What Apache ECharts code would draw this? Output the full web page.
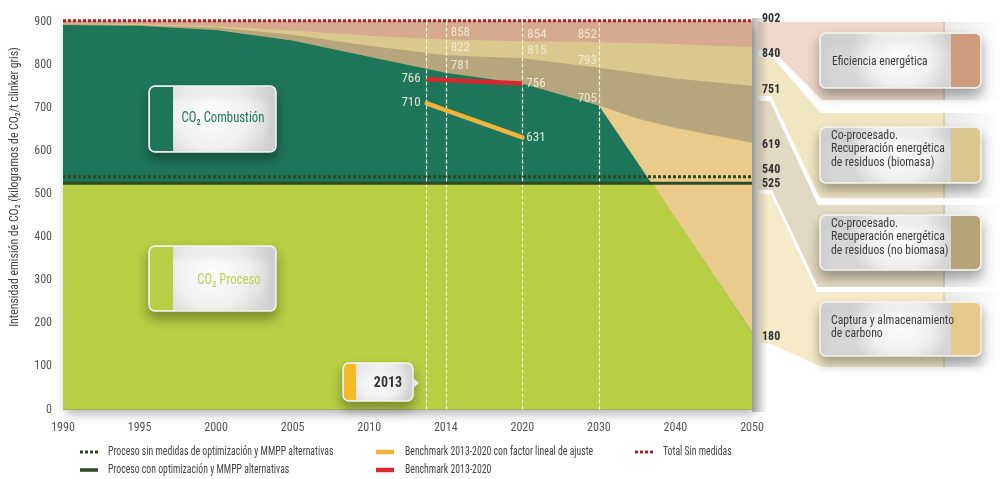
<!DOCTYPE html>
<html>
<head>
<meta charset="utf-8">
<script src="https://cdn.jsdelivr.net/npm/echarts@6/dist/echarts.min.js"></script>
<style>
  html, body { margin: 0; padding: 0; background: #ffffff; }
  #chart { width: 1001px; height: 479px; }
</style>
</head>
<body>
<div id="chart"></div>
<script>
// ---- data ----------------------------------------------------------------
// Axis ticks (the time axis is stretched: each tick gets the same width)
const tickYears = [1990, 1995, 2000, 2005, 2010, 2014, 2020, 2030, 2040, 2050];

// Upper edge of every band, kg CO2 / t clinker gris
const totalSinMedidas   = [[1990, 902], [2050, 902]];
const eficienciaBase    = [[1990, 895], [1995, 894], [2000, 889], [2005, 879], [2010, 867], [2014, 858], [2020, 854], [2030, 852], [2040, 848], [2050, 840]];
const biomasaBase       = [[1990, 894], [1995, 892], [2000, 886], [2005, 869], [2010, 844], [2014, 822], [2020, 815], [2030, 793], [2040, 768], [2050, 751]];
const noBiomasaBase     = [[1990, 892], [1995, 890], [2000, 880], [2005, 856], [2010, 818], [2014, 781], [2020, 756], [2030, 705], [2035, 675], [2040, 653], [2050, 619]];
const combustionTop     = [[1990, 892], [1995, 890], [2000, 880], [2005, 856], [2010, 818], [2014, 781], [2020, 756], [2030, 705], [2050, 180]];
const procesoTop        = [[1990, 525], [2037, 525], [2050, 180]];
const procesoSinMedidas = [[1990, 540], [2050, 540]];
const procesoConOpt     = [[1990, 525], [2050, 525]];
const benchmark         = [[2013, 766], [2020, 756]];
const benchmarkAjuste   = [[2013, 710], [2020, 631]];
const guideYears        = [2013, 2014, 2020, 2030];

// ---- helpers -------------------------------------------------------------
const FONT = '"Liberation Sans Narrow", "Roboto Condensed", "DejaVu Sans Condensed", "Open Sans", sans-serif';

// position of a year on the stretched axis (tick index, fractional between ticks)
function yearPos(yr) {
  for (let i = 0; i < tickYears.length - 1; i++) {
    if (yr <= tickYears[i + 1]) {
      return i + (yr - tickYears[i]) / (tickYears[i + 1] - tickYears[i]);
    }
  }
  return tickYears.length - 1;
}

const inRight = { position: 'right', distance: 5, offset: [0, -7], color: 'rgba(246,240,222,0.85)', fontSize: 13, fontFamily: FONT };
const inLeft  = { position: 'left',  distance: 2, offset: [0, -7], color: 'rgba(246,240,222,0.85)', fontSize: 13, fontFamily: FONT };
const bmLeft  = { position: 'left',  distance: 6, offset: [0, -1], color: 'rgba(246,240,222,0.92)', fontSize: 13, fontFamily: FONT };
const bmRight = { position: 'right', distance: 4, offset: [0, 0],  color: 'rgba(246,240,222,0.92)', fontSize: 13, fontFamily: FONT };
function outLbl(dy) {
  return { position: 'right', distance: 10, offset: [0, dy], color: '#333', fontSize: 12, fontWeight: 'bold', fontFamily: FONT };
}

function pts(arr, labels) {
  return arr.map(([yr, v]) => {
    const item = { value: [yearPos(yr), v] };
    if (labels && labels[yr]) {
      item.label = Object.assign({ show: true, formatter: (p) => String(p.value[1]) }, labels[yr]);
    }
    return item;
  });
}

function band(name, data, color, labels, z) {
  return {
    name, type: 'line', data: pts(data, labels),
    symbol: 'circle', symbolSize: 0, showSymbol: true,
    lineStyle: { width: 0 }, itemStyle: { color },
    areaStyle: { color, opacity: 1 },
    label: { show: false }, clip: false, silent: true,
    z: z, animation: false
  };
}

function lineSeries(name, data, style, labels, z) {
  return {
    name, type: 'line', data: pts(data, labels),
    symbol: 'circle', symbolSize: 0, showSymbol: true,
    lineStyle: style, itemStyle: { color: style.color },
    label: { show: false }, clip: false, silent: true,
    z: z, animation: false
  };
}

// ---- callout boxes -------------------------------------------------------
const boxFill = {
  type: 'radial', x: 0.5, y: 0.4, r: 0.9,
  colorStops: [{ offset: 0, color: '#fdfdfd' }, { offset: 0.6, color: '#f0f0f0' }, { offset: 1, color: '#d6d6d6' }]
};

function tagBox(x, y, w, h, swatchColor, swatchW, swatchLeft, text, textOpt) {
  return [
    { type: 'rect', shape: { x, y, width: w, height: h, r: 6 },
      style: { fill: boxFill, stroke: '#f6f6f0', lineWidth: 1.5,
               shadowBlur: 12, shadowOffsetX: 0, shadowOffsetY: 7, shadowColor: 'rgba(0,0,0,0.33)' }, z: 20 },
    { type: 'rect',
      shape: swatchLeft ? { x: x + 1, y: y + 1, width: swatchW, height: h - 2, r: [5, 0, 0, 5] }
                        : { x: x + w - swatchW - 1, y: y + 1, width: swatchW, height: h - 2, r: [0, 5, 5, 0] },
      style: { fill: swatchColor }, z: 21 },
    { type: 'text', x: textOpt.x, y: textOpt.y, scaleX: textOpt.scaleX || 1,
      style: { text, font: textOpt.font, fill: textOpt.color,
               align: textOpt.align || 'left', verticalAlign: 'middle',
               lineHeight: textOpt.lineHeight || 14 },
      z: 22 }
  ];
}

// ---- legend entries --------------------------------------------------------
function legendLine(x, y, color, width, dash) {
  return { type: 'line', shape: { x1: x, y1: y, x2: x + 18, y2: y },
           style: { stroke: color, lineWidth: width, lineDash: dash || null }, z: 20 };
}
function legendText(x, y, text) {
  return { type: 'text', x, y, scaleX: 0.75,
           style: { text, font: '13px ' + FONT, fill: '#444', verticalAlign: 'middle' }, z: 20 };
}

// ribbons fanning out from the 2050 edge to the callouts
function ribbon(points, color) {
  return { type: 'polygon', shape: { points }, style: { fill: color }, z: 1 };
}
function ribbonShade(y, h) {
  return { type: 'rect', shape: { x: 943, y, width: 58, height: h },
           style: { fill: { type: 'linear', x: 0, y: 0, x2: 1, y2: 0,
                            colorStops: [{ offset: 0, color: 'rgba(0,0,0,0.09)' }, { offset: 1, color: 'rgba(0,0,0,0)' }] } }, z: 1 };
}

const graphics = [
  // plot shadow
  { type: 'rect', shape: { x: 63, y: 21.5, width: 689, height: 388 },
    style: { fill: '#b7ce45', shadowBlur: 10, shadowOffsetX: 3, shadowOffsetY: 4, shadowColor: 'rgba(0,0,0,0.3)' }, z: 0 },
  ribbon([[758, 22], [945, 22], [945, 100], [822, 100], [772, 50], [758, 50]], '#eed8cb'),
  ribbon([[758, 57], [772, 57], [821, 113], [945, 113], [945, 198], [820, 198], [771, 96], [758, 96]], '#f1e6c3'),
  ribbon([[758, 101], [770, 101], [818, 205], [945, 205], [945, 287], [818, 287], [772, 190], [758, 190]], '#e1d9c1'),
  ribbon([[758, 194], [771, 194], [817, 292], [945, 292], [945, 367], [822, 367], [768, 343], [758, 343]], '#f5ebca'),
  ribbonShade(22, 78), ribbonShade(113, 85), ribbonShade(205, 82), ribbonShade(292, 75),
  // edge shade right of the plot
  { type: 'rect', shape: { x: 752, y: 18, width: 16, height: 394 },
    style: { fill: { type: 'linear', x: 0, y: 0, x2: 1, y2: 0,
                     colorStops: [{ offset: 0, color: 'rgba(60,60,60,0.35)' }, { offset: 1, color: 'rgba(60,60,60,0)' }] } }, z: 2 },
  // y axis title
  { type: 'text', x: 15, y: 187, rotation: Math.PI / 2, scaleX: 0.94,
    style: { text: 'Intensidad emisión de CO₂ (kilogramos de CO₂/t clinker gris)', font: '12.5px ' + FONT,
             fill: '#444', align: 'center', verticalAlign: 'middle' }, z: 20 },
  // in-plot tags
  ...tagBox(149, 86, 127, 66, '#1e765a', 23, true, 'CO₂ Combustión',
            { x: 223, y: 118, font: '15px ' + FONT, color: '#1e765a', align: 'center', scaleX: 0.85 }),
  ...tagBox(149, 246, 127, 65, '#b7ce45', 23, true, 'CO₂ Proceso',
            { x: 229, y: 280, font: '15px ' + FONT, color: '#bdd24e', align: 'center', scaleX: 0.85 }),
  ...tagBox(343, 363, 70, 38, '#f7b928', 12, true, '2013',
            { x: 388, y: 383, font: 'bold 14px ' + FONT, color: '#333', align: 'center' }),
  { type: 'polygon', shape: { points: [[412, 377], [419, 383], [412, 389]] }, style: { fill: '#e9e9e9' }, z: 21 },
  // right callouts
  ...tagBox(820, 33, 161, 55, '#d09c80', 29, false, 'Eficiencia energética',
            { x: 832, y: 62, font: '13px ' + FONT, color: '#3c3c3c', scaleX: 0.9 }),
  ...tagBox(820, 127, 161, 56, '#dac78f', 29, false, 'Co-procesado.\nRecuperación energética\nde residuos (biomasa)',
            { x: 831, y: 149, font: '13px ' + FONT, color: '#3c3c3c', lineHeight: 13.5, scaleX: 0.9 }),
  ...tagBox(820, 215, 161, 55, '#b4a478', 29, false, 'Co-procesado.\nRecuperación energética\nde residuos (no biomasa)',
            { x: 831, y: 237, font: '13px ' + FONT, color: '#3c3c3c', lineHeight: 13.5, scaleX: 0.9 }),
  ...tagBox(820, 302, 161, 54, '#e8c98a', 29, false, 'Captura y almacenamiento\nde carbono',
            { x: 831, y: 327, font: '13px ' + FONT, color: '#3c3c3c', lineHeight: 13.5, scaleX: 0.9 }),
  // legend
  legendLine(80, 452, '#2b4a1f', 3, [3, 2]),
  legendText(108, 452, 'Proceso sin medidas de optimización y MMPP alternativas'),
  legendLine(80, 470, '#2b4a1f', 3.5),
  legendText(108, 470, 'Proceso con optimización y MMPP alternativas'),
  legendLine(376, 452, '#f0b33c', 4.5),
  legendText(405, 452, 'Benchmark 2013-2020 con factor lineal de ajuste'),
  legendLine(376, 470, '#d9272e', 4.5),
  legendText(405, 470, 'Benchmark 2013-2020'),
  legendLine(635, 452, '#b01e2a', 3, [3, 2]),
  legendText(663, 452, 'Total Sin medidas')
];

// ---- chart -------------------------------------------------------------------
const chart = echarts.init(document.getElementById('chart'), null, { renderer: 'canvas' });

const option = {
  animation: false,
  backgroundColor: '#ffffff',
  textStyle: { fontFamily: FONT },
  grid: { left: 63, right: 249, top: 21.5, bottom: 69.5 },
  xAxis: {
    type: 'value', min: 0, max: tickYears.length - 1, interval: 1,
    axisLine: { show: false }, axisTick: { show: false }, splitLine: { show: false },
    axisLabel: { color: '#555', fontSize: 12, fontFamily: FONT, margin: 12,
                 formatter: (v) => tickYears[Math.round(v)] }
  },
  yAxis: {
    type: 'value', min: 0, max: 900, interval: 100,
    axisLine: { show: false }, axisTick: { show: false }, splitLine: { show: false },
    axisLabel: { color: '#555', fontSize: 12, fontFamily: FONT, margin: 11 }
  },
  graphic: { elements: graphics },
  series: [
    band('Eficiencia energética', totalSinMedidas, '#d6aa8e', { 2050: outLbl(-2) }, 2),
    band('Co-procesado (biomasa)', eficienciaBase, '#dac88e',
         { 2014: inRight, 2020: inRight, 2030: inLeft, 2050: outLbl(7) }, 2),
    band('Co-procesado (no biomasa)', biomasaBase, '#b7a67b',
         { 2014: inRight, 2020: inRight, 2030: inLeft, 2050: outLbl(4) }, 2),
    band('Captura y almacenamiento de carbono', noBiomasaBase, '#ebcb8b', { 2050: outLbl(2) }, 2),
    band('CO₂ Combustión', combustionTop, '#1e765a', { 2014: inRight, 2030: inLeft }, 2),
    band('CO₂ Proceso', procesoTop, '#b7ce45', { 2050: outLbl(5) }, 2),
    {
      name: 'guides', type: 'line', data: [], silent: true,
      markLine: {
        symbol: 'none', silent: true, animation: false,
        label: { show: false },
        lineStyle: { color: 'rgba(255,255,228,0.9)', type: [4, 2], width: 1.2 },
        data: guideYears.map((yr) => ({ xAxis: yearPos(yr) }))
      }
    },
    lineSeries('Proceso sin medidas de optimización y MMPP alternativas', procesoSinMedidas,
               { color: '#2b4a1f', width: 3, type: [3, 2] }, { 2050: outLbl(-7) }, 6),
    lineSeries('Proceso con optimización y MMPP alternativas', procesoConOpt,
               { color: '#2f4a22', width: 3 }, { 2050: outLbl(1) }, 6),
    lineSeries('Benchmark 2013-2020', benchmark,
               { color: '#d9272e', width: 4.5, cap: 'butt' }, { 2013: bmLeft, 2020: bmRight }, 7),
    lineSeries('Benchmark 2013-2020 con factor lineal de ajuste', benchmarkAjuste,
               { color: '#f0b33c', width: 4.5, cap: 'round' }, { 2013: bmLeft, 2020: bmRight }, 7),
    lineSeries('Total Sin medidas', totalSinMedidas,
               { color: '#b01e2a', width: 3, type: [3, 2] }, null, 7)
  ]
};

chart.setOption(option);
</script>
</body>
</html>
